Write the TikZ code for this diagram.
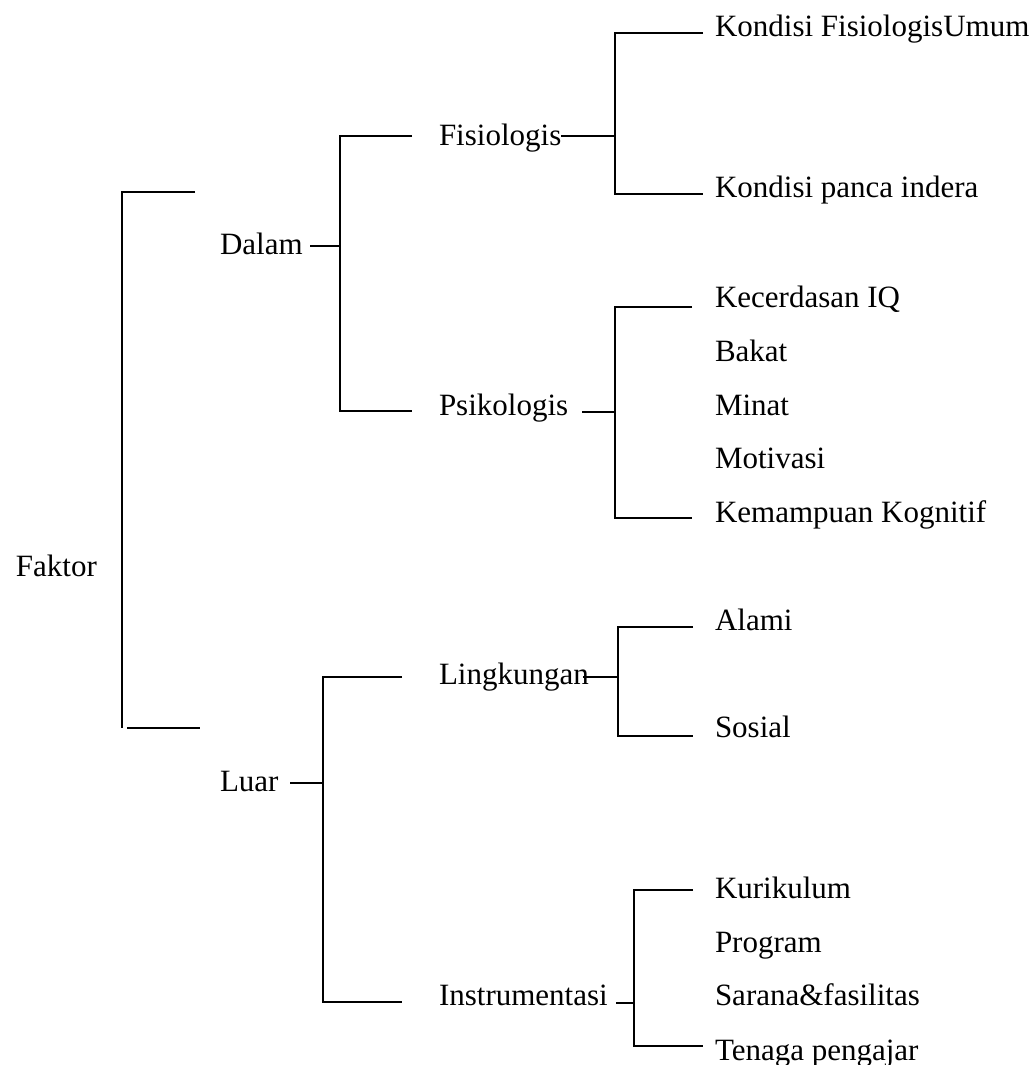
\documentclass[tikz,border=0pt]{standalone}
\usepackage{fontspec}
\setmainfont{Liberation Serif}
\begin{document}
\begin{tikzpicture}[x=0.5pt,y=-0.5pt,line width=1pt,
	txt/.style={anchor=base west,inner sep=0pt,font=\fontsize{15.5}{18}\selectfont}]
	\useasboundingbox (0,0) rectangle (1036,1065);
	% labels
	\node[txt] (faktor) at (15,576) {Faktor};
	\node[txt] (dalam) at (219,254) {Dalam};
	\node[txt] (luar) at (219,791) {Luar};
	\node[txt] (fisio) at (438,146) {Fisiologis};
	\node[txt] (psiko) at (438,415) {Psikologis};
	\node[txt] (lingk) at (438,684) {Lingkungan};
	\node[txt] (instr) at (438,1005) {Instrumentasi};
	\node[txt] (kfu) at (714,37) {Kondisi FisiologisUmum};
	\node[txt] (kpi) at (714,198) {Kondisi panca indera};
	\node[txt] (iq) at (714,307) {Kecerdasan IQ};
	\node[txt] (bakat) at (714,361) {Bakat};
	\node[txt] (minat) at (714,415) {Minat};
	\node[txt] (motiv) at (714,468) {Motivasi};
	\node[txt] (kogn) at (714,522) {Kemampuan Kognitif};
	\node[txt] (alami) at (714,630) {Alami};
	\node[txt] (sosial) at (714,737) {Sosial};
	\node[txt] (kurik) at (714,898) {Kurikulum};
	\node[txt] (prog) at (714,952) {Program};
	\node[txt] (sarana) at (714,1005) {Sarana\&fasilitas};
	\node[txt] (tenaga) at (714,1060) {Tenaga pengajar};
	% Faktor
	\coordinate (fkT) at (195,192); \coordinate (fkTc) at (122,192);
	\coordinate (fkBc) at (122,728); \coordinate (fkB1) at (127,728); \coordinate (fkB) at (200,728);
	\draw (fkT) -- (fkTc) -- (fkBc);
	\draw (fkB1) -- (fkB);
	% Dalam
	\coordinate (dlS) at (310,246); \coordinate (dlJ) at (340,246);
	\coordinate (dlT) at (412,136); \coordinate (dlB) at (412,411);
	\draw (dlS) -- (dlJ);
	\draw (dlT) -| (dlJ) |- (dlB);
	% Fisiologis
	\coordinate (fsS) at (561,136); \coordinate (fsJ) at (615,136);
	\coordinate (fsT) at (703,33); \coordinate (fsB) at (703,194);
	\draw (fsS) -- (fsJ);
	\draw (fsT) -| (fsJ) |- (fsB);
	% Psikologis
	\coordinate (psS) at (582,412); \coordinate (psJ) at (615,412);
	\coordinate (psT) at (692,307); \coordinate (psB) at (692,518);
	\draw (psS) -- (psJ);
	\draw (psT) -| (psJ) |- (psB);
	% Luar
	\coordinate (luS) at (290,783); \coordinate (luJ) at (323,783);
	\coordinate (luT) at (402,677); \coordinate (luB) at (402,1002);
	\draw (luS) -- (luJ);
	\draw (luT) -| (luJ) |- (luB);
	% Lingkungan
	\coordinate (lgS) at (583,677); \coordinate (lgJ) at (618,677);
	\coordinate (lgT) at (693,627); \coordinate (lgB) at (693,736);
	\draw (lgS) -- (lgJ);
	\draw (lgT) -| (lgJ) |- (lgB);
	% Instrumentasi
	\coordinate (inS) at (616,1003); \coordinate (inJ) at (634,1003);
	\coordinate (inT) at (693,890); \coordinate (inB) at (703,1046);
	\draw (inS) -- (inJ);
	\draw (inT) -| (inJ) |- (inB);
\end{tikzpicture}
\end{document}
